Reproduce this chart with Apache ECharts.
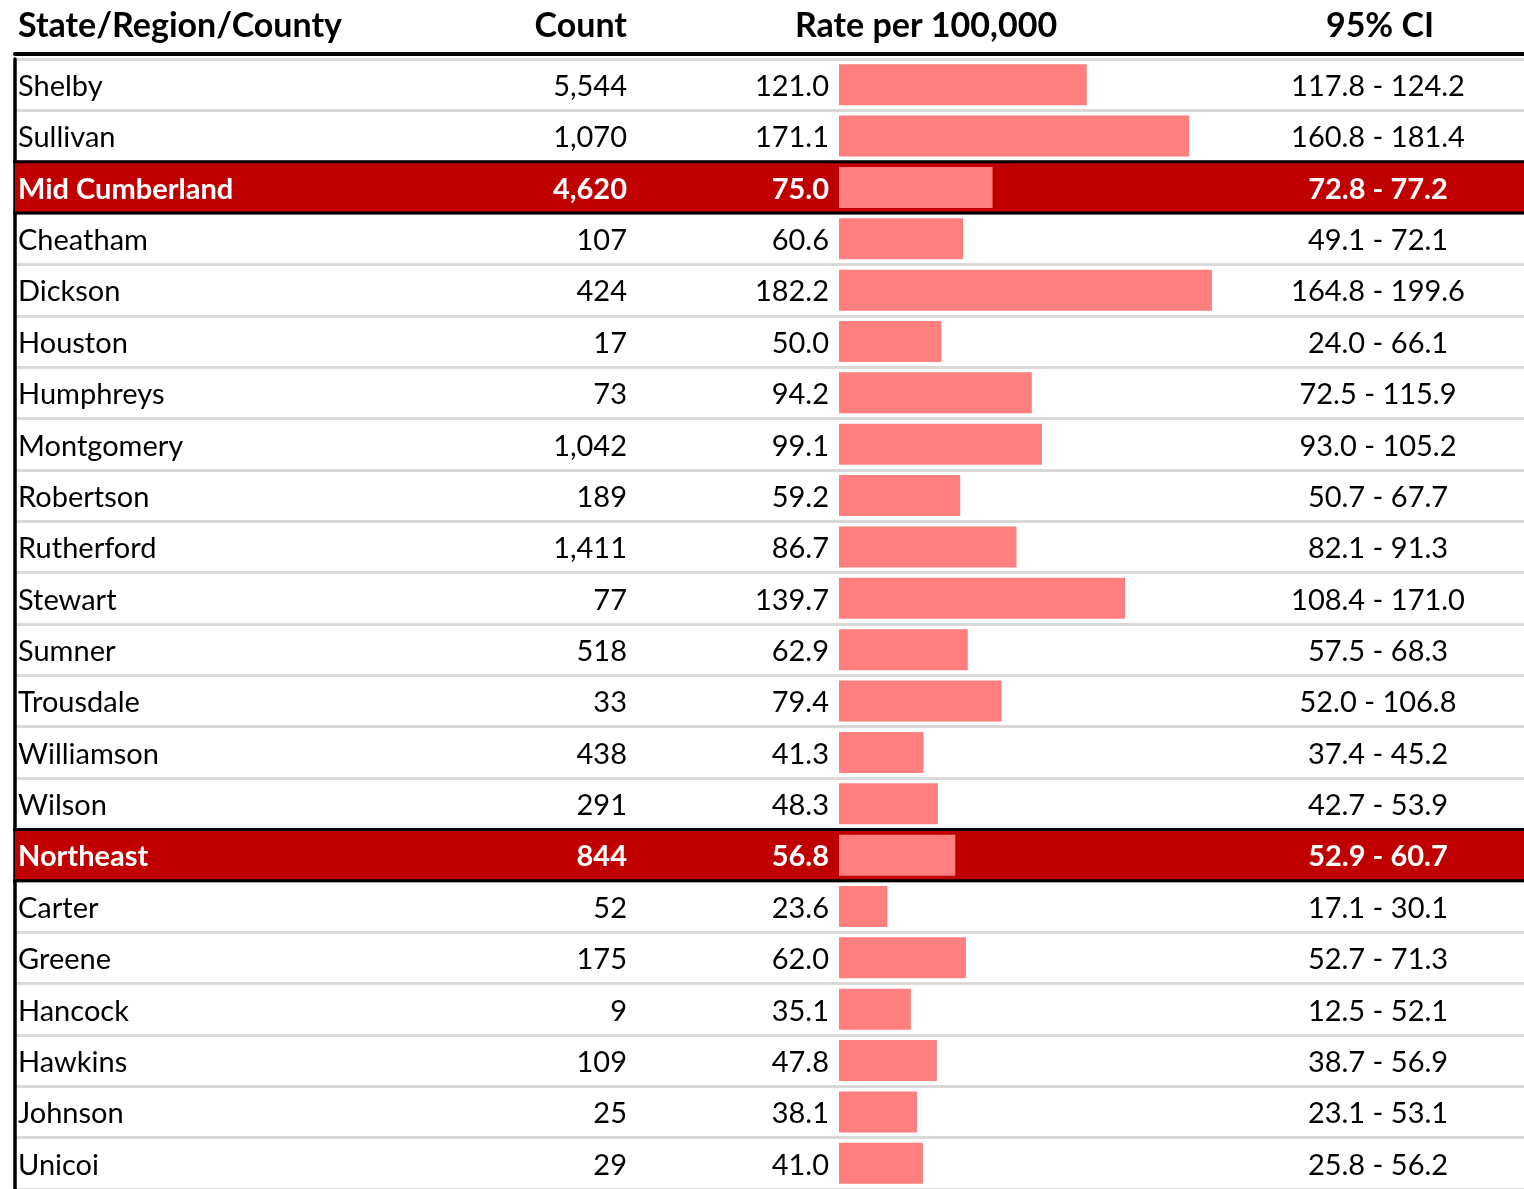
<!DOCTYPE html>
<html>
<head>
<meta charset="utf-8">
<script src="https://cdn.jsdelivr.net/npm/echarts@6/dist/echarts.min.js"></script>
<style>
  html, body { margin: 0; padding: 0; background: #fff; }
  #main { width: 1524px; height: 1189px; }
</style>
</head>
<body>
<div id="main"></div>
<script>
// table rows (top to bottom)
var names = ['Shelby', 'Sullivan', 'Mid Cumberland', 'Cheatham', 'Dickson', 'Houston', 'Humphreys',
  'Montgomery', 'Robertson', 'Rutherford', 'Stewart', 'Sumner', 'Trousdale', 'Williamson', 'Wilson',
  'Northeast', 'Carter', 'Greene', 'Hancock', 'Hawkins', 'Johnson', 'Unicoi']
var counts = [5544, 1070, 4620, 107, 424, 17, 73, 1042, 189, 1411, 77, 518, 33, 438, 291,
  844, 52, 175, 9, 109, 25, 29]
var rates = [121.0, 171.1, 75.0, 60.6, 182.2, 50.0, 94.2, 99.1, 59.2, 86.7, 139.7, 62.9, 79.4, 41.3, 48.3,
  56.8, 23.6, 62.0, 35.1, 47.8, 38.1, 41.0]
var ciLow = [117.8, 160.8, 72.8, 49.1, 164.8, 24.0, 72.5, 93.0, 50.7, 82.1, 108.4, 57.5, 52.0, 37.4, 42.7,
  52.9, 17.1, 52.7, 12.5, 38.7, 23.1, 25.8]
var ciHigh = [124.2, 181.4, 77.2, 72.1, 199.6, 66.1, 115.9, 105.2, 67.7, 91.3, 171.0, 68.3, 106.8, 45.2, 53.9,
  60.7, 30.1, 71.3, 52.1, 56.9, 53.1, 56.2]
// region rows are highlighted
var regions = ['Mid Cumberland', 'Northeast']
var headers = ['State/Region/County', 'Count', 'Rate per 100,000', '95% CI']

var FONT = 'Lato'
var isRegion = names.map(function (n) { return regions.indexOf(n) >= 0 })

var countLabels = counts.map(function (c) { return c.toLocaleString('en-US') })
var rateLabels = rates.map(function (r) { return r.toFixed(1) })
var ciLabels = ciLow.map(function (l, i) { return l.toFixed(1) + ' - ' + ciHigh[i].toFixed(1) })

var rich = {
  n: { color: '#000', fontSize: 29, fontFamily: FONT, padding: [4, 0, 0, 0] },
  b: { color: '#fff', fontSize: 29, fontFamily: FONT, fontWeight: 'bold', padding: [4, 0, 0, 0] }
}

// text column as an extra category axis, placed with inside labels
function textAxis(data, margin, align) {
  return {
    type: 'category', position: 'left', inverse: true, data: data, z: 10,
    axisLine: { show: false, onZero: false }, axisTick: { show: false }, splitLine: { show: false },
    axisLabel: {
      inside: true, margin: margin, align: align, interval: 0, hideOverlap: false,
      formatter: function (v, i) { return isRegion[i] ? '{b|' + v + '}' : '{n|' + v + '}' },
      rich: rich
    }
  }
}

var GRID_LEFT = 15
var myChart = echarts.init(document.getElementById('main'))
var option = {
  animation: false,
  grid: { left: GRID_LEFT, right: 0, top: 59, height: 1133, containLabel: false },
  xAxis: {
    type: 'value', position: 'top', offset: 5.5,
    min: -402.5, max: 334.6,
    axisLine: { show: true, lineStyle: { color: '#000', width: 4 } },
    axisTick: { show: false }, axisLabel: { show: false }, splitLine: { show: false }
  },
  yAxis: [
    {
      type: 'category', position: 'left', inverse: true, data: names, z: 0,
      axisLine: { show: true, onZero: false, lineStyle: { color: '#000', width: 3.5 } },
      axisTick: { show: false }, axisLabel: { show: false },
      splitLine: { show: true, lineStyle: { color: '#d9d9d9', width: 3 } }
    },
    textAxis(names, 18 - GRID_LEFT, 'left'),
    textAxis(countLabels, 627 - GRID_LEFT, 'right'),
    textAxis(rateLabels, 829 - GRID_LEFT, 'right'),
    textAxis(ciLabels, 1378 - GRID_LEFT, 'center')
  ],
  graphic: headers.map(function (h, i) {
    var xs = [18, 627, 926, 1380]
    var al = ['left', 'right', 'center', 'center']
    return {
      type: 'text', x: xs[i], y: 26, z: 10,
      style: { text: h, align: al[i], verticalAlign: 'middle', font: 'bold 34px ' + FONT, fill: '#000' }
    }
  }),
  series: [
    {
      // red background + black rules for region rows
      type: 'custom', z: 1,
      data: names.map(function (n, i) { return [0, i] }).filter(function (d) { return isRegion[d[1]] }),
      renderItem: function (params, api) {
        var cs = params.coordSys
        var y = api.coord([0, api.value(1)])[1]
        var h = api.size([0, 1])[1]
        var top = y - h / 2
        return {
          type: 'group',
          children: [
            { type: 'rect', shape: { x: cs.x, y: top, width: cs.width, height: h }, style: { fill: '#c00000' } },
            { type: 'line', shape: { x1: cs.x - 2, y1: top, x2: cs.x + cs.width, y2: top }, style: { stroke: '#000', lineWidth: 3 } },
            { type: 'line', shape: { x1: cs.x - 2, y1: top + h, x2: cs.x + cs.width, y2: top + h }, style: { stroke: '#000', lineWidth: 3 } }
          ]
        }
      }
    },
    {
      name: 'Rate per 100,000',
      type: 'bar', z: 3,
      barWidth: 41,
      data: rates,
      itemStyle: { color: '#ff7f7f' }
    }
  ]
}
myChart.setOption(option)
</script>
</body>
</html>
